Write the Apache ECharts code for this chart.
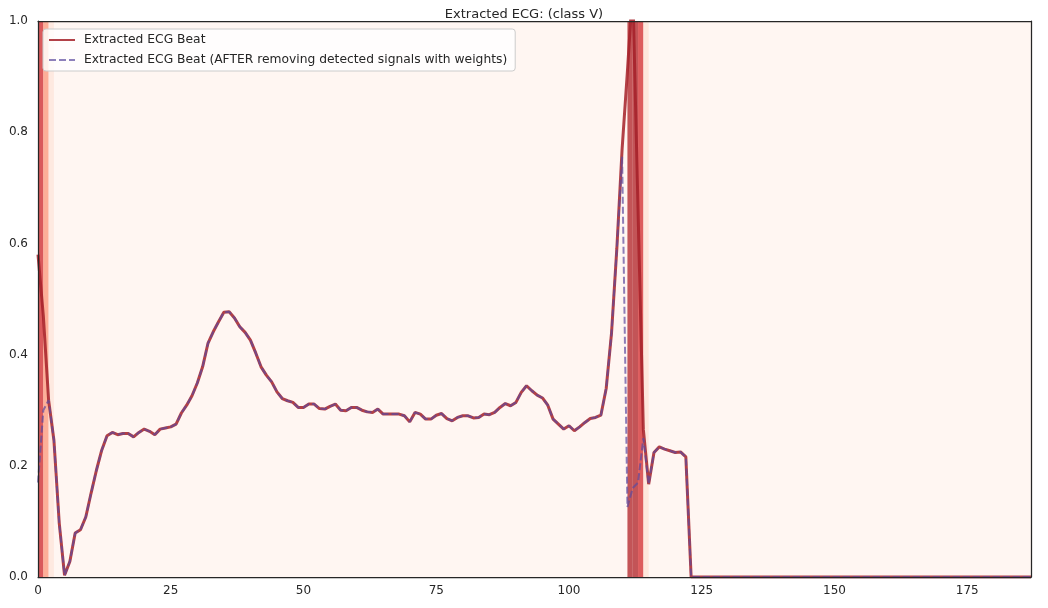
<!DOCTYPE html>
<html>
<head>
<meta charset="utf-8">
<title>Extracted ECG: (class V)</title>
<script src="https://cdn.jsdelivr.net/npm/echarts@6/dist/echarts.min.js"></script>
<style>
  html, body { margin: 0; padding: 0; background: #fff; }
  #chart { width: 1048px; height: 608px; }
</style>
</head>
<body>
<div id="chart"></div>
<script>
// ECG beat, one sample per x index
const beat = [
  0.58, 0.47, 0.318, 0.246, 0.097, 0.003, 0.028, 0.079, 0.085, 0.108,
  0.151, 0.192, 0.228, 0.254, 0.26, 0.256, 0.258, 0.258, 0.252, 0.26,
  0.266, 0.262, 0.256, 0.266, 0.268, 0.27, 0.275, 0.295, 0.309, 0.326,
  0.349, 0.378, 0.42, 0.441, 0.459, 0.476, 0.477, 0.466, 0.45, 0.44,
  0.426, 0.403, 0.378, 0.363, 0.351, 0.333, 0.321, 0.317, 0.314, 0.305,
  0.305, 0.311, 0.311, 0.303, 0.302, 0.307, 0.311, 0.3, 0.299, 0.305,
  0.305, 0.3, 0.297, 0.296, 0.302, 0.293, 0.293, 0.293, 0.293, 0.29,
  0.279, 0.296, 0.293, 0.284, 0.284, 0.291, 0.294, 0.285, 0.281, 0.287,
  0.29, 0.29, 0.286, 0.287, 0.293, 0.292, 0.296, 0.305, 0.312, 0.308,
  0.314, 0.332, 0.344, 0.335, 0.327, 0.322, 0.309, 0.284, 0.275, 0.266,
  0.272, 0.263, 0.27, 0.278, 0.285, 0.287, 0.291, 0.339, 0.438, 0.59,
  0.77, 0.91, 1.06, 0.66, 0.265, 0.167, 0.224, 0.234, 0.23, 0.227,
  0.224, 0.225, 0.216, 0, 0, 0, 0, 0, 0, 0,
  0, 0, 0, 0, 0, 0, 0, 0, 0, 0,
  0, 0, 0, 0, 0, 0, 0, 0, 0, 0,
  0, 0, 0, 0, 0, 0, 0, 0, 0, 0,
  0, 0, 0, 0, 0, 0, 0, 0, 0, 0,
  0, 0, 0, 0, 0, 0, 0, 0, 0, 0,
  0, 0, 0, 0, 0, 0, 0, 0
]

// same beat after removing the detected signals (weighted)
const beatCleaned = [
  0.17, 0.30, 0.318, 0.246, 0.097, 0.003, 0.028, 0.079, 0.085, 0.108,
  0.151, 0.192, 0.228, 0.254, 0.26, 0.256, 0.258, 0.258, 0.252, 0.26,
  0.266, 0.262, 0.256, 0.266, 0.268, 0.27, 0.275, 0.295, 0.309, 0.326,
  0.349, 0.378, 0.42, 0.441, 0.459, 0.476, 0.477, 0.466, 0.45, 0.44,
  0.426, 0.403, 0.378, 0.363, 0.351, 0.333, 0.321, 0.317, 0.314, 0.305,
  0.305, 0.311, 0.311, 0.303, 0.302, 0.307, 0.311, 0.3, 0.299, 0.305,
  0.305, 0.3, 0.297, 0.296, 0.302, 0.293, 0.293, 0.293, 0.293, 0.29,
  0.279, 0.296, 0.293, 0.284, 0.284, 0.291, 0.294, 0.285, 0.281, 0.287,
  0.29, 0.29, 0.286, 0.287, 0.293, 0.292, 0.296, 0.305, 0.312, 0.308,
  0.314, 0.332, 0.344, 0.335, 0.327, 0.322, 0.309, 0.284, 0.275, 0.266,
  0.272, 0.263, 0.27, 0.278, 0.285, 0.287, 0.291, 0.339, 0.438, 0.59,
  0.756, 0.126, 0.16, 0.17, 0.25, 0.167, 0.224, 0.234, 0.23, 0.227,
  0.224, 0.225, 0.216, 0, 0, 0, 0, 0, 0, 0,
  0, 0, 0, 0, 0, 0, 0, 0, 0, 0,
  0, 0, 0, 0, 0, 0, 0, 0, 0, 0,
  0, 0, 0, 0, 0, 0, 0, 0, 0, 0,
  0, 0, 0, 0, 0, 0, 0, 0, 0, 0,
  0, 0, 0, 0, 0, 0, 0, 0, 0, 0,
  0, 0, 0, 0, 0, 0, 0, 0
]

// detection weight per x index (background shading)
const weights = [
  0.75, 0.375, 0.1, 0, 0, 0, 0, 0, 0, 0,
  0, 0, 0, 0, 0, 0, 0, 0, 0, 0,
  0, 0, 0, 0, 0, 0, 0, 0, 0, 0,
  0, 0, 0, 0, 0, 0, 0, 0, 0, 0,
  0, 0, 0, 0, 0, 0, 0, 0, 0, 0,
  0, 0, 0, 0, 0, 0, 0, 0, 0, 0,
  0, 0, 0, 0, 0, 0, 0, 0, 0, 0,
  0, 0, 0, 0, 0, 0, 0, 0, 0, 0,
  0, 0, 0, 0, 0, 0, 0, 0, 0, 0,
  0, 0, 0, 0, 0, 0, 0, 0, 0, 0,
  0, 0, 0, 0, 0, 0, 0, 0, 0, 0,
  0, 0.86, 0.86, 0.74, 0.12, 0, 0, 0, 0, 0,
  0, 0, 0, 0, 0, 0, 0, 0, 0, 0,
  0, 0, 0, 0, 0, 0, 0, 0, 0, 0,
  0, 0, 0, 0, 0, 0, 0, 0, 0, 0,
  0, 0, 0, 0, 0, 0, 0, 0, 0, 0,
  0, 0, 0, 0, 0, 0, 0, 0, 0, 0,
  0, 0, 0, 0, 0, 0, 0, 0, 0, 0,
  0, 0, 0, 0, 0, 0, 0, 0
]

const xTicks = { min: 0, max: 187, step: 25 }
const yTicks = { min: 0, max: 1, step: 0.2 }

const reds = ['#fff5f0', '#fee0d2', '#fcbba1', '#fc9272', '#fb6a4a', '#ef3b2c', '#cb181d', '#a50f15', '#67000d']
const FONT = 'DejaVu Sans'
const INK = '#262626'

const chart = echarts.init(document.getElementById('chart'), null, { renderer: 'canvas' })

// one shaded column per x index; zero weight is left to the plot background
const renderCell = (params, api) => {
    if (!api.value(1)) return
    const topLeft = api.coord([api.value(0), yTicks.max])
    const size = api.size([1, yTicks.max - yTicks.min])
    const cs = params.coordSys
    const shape = echarts.graphic.clipRectByRect(
        { x: topLeft[0], y: topLeft[1], width: size[0], height: size[1] },
        { x: cs.x, y: cs.y, width: cs.width, height: cs.height }
    )
    if (!shape) return
    return {
        type: 'rect',
        shape: shape,
        style: { fill: api.visual('color'), opacity: 0.7 }
    }
}

const axisCommon = {
    type: 'value',
    z: 5,
    axisTick: { show: false },
    splitLine: { show: false },
    axisLine: { show: true, onZero: false, lineStyle: { color: INK, width: 1.25 } }
}

const option = {
    backgroundColor: '#ffffff',
    animation: false,
    title: {
        text: 'Extracted ECG: (class V)',
        left: 'center',
        top: 3,
        textStyle: { fontFamily: FONT, fontSize: 13, fontWeight: 'normal', color: INK }
    },
    legend: {
        orient: 'vertical',
        left: 43,
        top: 29,
        padding: [5, 8, 5, 5],
        itemWidth: 26,
        itemHeight: 12,
        itemGap: 8,
        backgroundColor: 'rgba(255,255,255,0.8)',
        borderColor: '#cccccc',
        borderWidth: 1,
        borderRadius: 3,
        itemStyle: { opacity: 0 },
        textStyle: { fontFamily: FONT, fontSize: 12.3, color: INK, padding: [0, 0, 0, 4] },
        data: ['Extracted ECG Beat', 'Extracted ECG Beat (AFTER removing detected signals with weights)']
    },
    grid: {
        left: 38, right: 17, top: 21, bottom: 31,
        show: true,
        backgroundColor: '#fff6f2',
        borderWidth: 0
    },
    visualMap: {
        show: false,
        seriesIndex: 0,
        dimension: 1,
        min: 0,
        max: 1,
        inRange: { color: reds }
    },
    xAxis: [
        {
            ...axisCommon,
            position: 'bottom',
            min: xTicks.min,
            max: xTicks.max,
            interval: xTicks.step,
            axisLabel: { fontFamily: FONT, fontSize: 12, color: INK, margin: 8, showMaxLabel: false }
        },
        {
            ...axisCommon,
            position: 'top',
            min: xTicks.min,
            max: xTicks.max,
            axisLabel: { show: false }
        }
    ],
    yAxis: [
        {
            ...axisCommon,
            position: 'left',
            min: yTicks.min,
            max: yTicks.max,
            interval: yTicks.step,
            axisLabel: {
                fontFamily: FONT, fontSize: 12, color: INK, margin: 10,
                formatter: (v) => v.toFixed(1)
            }
        },
        {
            ...axisCommon,
            position: 'right',
            min: yTicks.min,
            max: yTicks.max,
            axisLabel: { show: false }
        }
    ],
    series: [
        {
            name: 'weights',
            type: 'custom',
            renderItem: renderCell,
            encode: { x: 0, y: 1 },
            silent: true,
            z: 1,
            data: weights.map((w, i) => [i, w])
        },
        {
            name: 'Extracted ECG Beat',
            type: 'line',
            z: 3,
            symbol: 'none',
            clip: true,
            color: '#a52028',
            lineStyle: { color: '#a52028', width: 3, opacity: 0.85 },
            data: beat.map((v, i) => [i, v])
        },
        {
            name: 'Extracted ECG Beat (AFTER removing detected signals with weights)',
            type: 'line',
            z: 4,
            symbol: 'none',
            clip: true,
            color: '#5c4a9e',
            lineStyle: { color: '#5c4a9e', width: 2, type: [7, 3], opacity: 0.7 },
            data: beatCleaned.map((v, i) => [i, v])
        }
    ]
}

chart.setOption(option)
window.addEventListener('resize', () => chart.resize())
</script>
</body>
</html>
